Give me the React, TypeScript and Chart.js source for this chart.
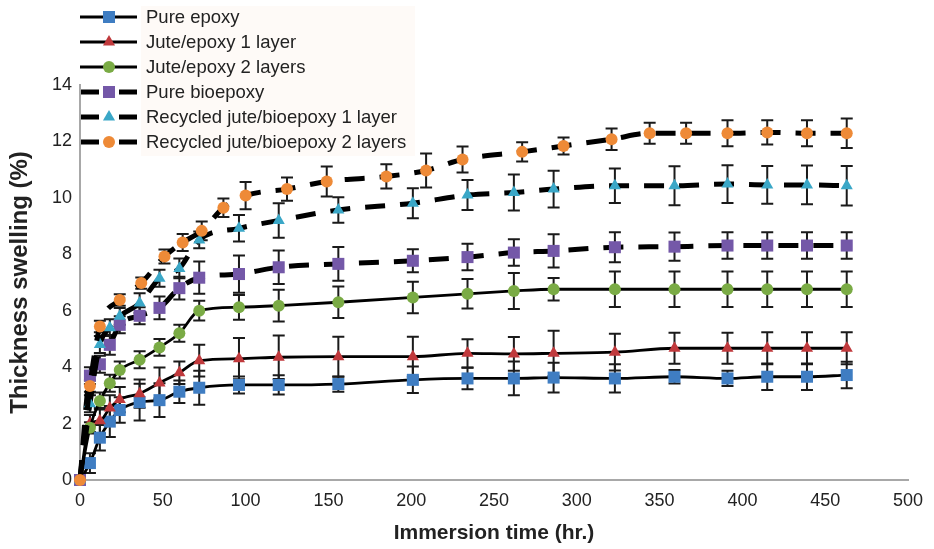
import { useEffect, useRef } from "react";
import { Chart, registerables } from "chart.js";

Chart.register(...registerables);

// Immersion times (hr.) shared by the first five materials
const hours = [0, 6, 12, 18, 24, 36, 48, 60, 72, 96, 120, 156, 201, 234, 262, 286, 323, 359, 391, 415, 439, 463];
// Immersion times (hr.) for the recycled jute/bioepoxy 2-layer laminate
const hoursRecycled2 = [0, 6, 12, 24, 37, 51, 62, 73.5, 86.6, 100, 125, 149, 185, 209, 231, 267, 292, 321, 344, 366, 391, 415, 439, 463];

const seriesNames = [
  "Pure epoxy",
  "Jute/epoxy 1 layer",
  "Jute/epoxy 2 layers",
  "Pure bioepoxy",
  "Recycled jute/bioepoxy 1 layer",
  "Recycled jute/bioepoxy 2 layers",
];

// Thickness swelling (%) and standard deviations
const pureEpoxy = [0, 0.6, 1.5, 2.07, 2.48, 2.76, 2.83, 3.13, 3.27, 3.37, 3.37, 3.4, 3.55, 3.6, 3.6, 3.63, 3.6, 3.66, 3.6, 3.66, 3.66, 3.72];
const pureEpoxyErr = [0, 0.35, 0.45, 0.55, 0.45, 0.65, 0.6, 0.4, 0.6, 0.3, 0.34, 0.27, 0.47, 0.38, 0.6, 0.53, 0.5, 0.24, 0.27, 0.47, 0.47, 0.47];

const jute1 = [0, 2.0, 2.1, 2.55, 2.85, 3.06, 3.44, 3.8, 4.23, 4.3, 4.35, 4.37, 4.37, 4.49, 4.47, 4.49, 4.53, 4.67, 4.67, 4.67, 4.67, 4.67];
const jute1Err = [0, 0.3, 0.45, 0.45, 0.45, 0.5, 0.55, 0.4, 0.56, 0.73, 0.77, 0.71, 0.71, 0.5, 0.6, 0.8, 0.65, 0.55, 0.55, 0.57, 0.57, 0.57];

const jute2 = [0, 1.85, 2.8, 3.43, 3.9, 4.26, 4.7, 5.2, 6.0, 6.12, 6.18, 6.3, 6.47, 6.6, 6.7, 6.76, 6.76, 6.76, 6.76, 6.76, 6.76, 6.76];
const jute2Err = [0, 0.2, 0.3, 0.3, 0.3, 0.3, 0.3, 0.3, 0.35, 0.44, 0.56, 0.56, 0.56, 0.52, 0.64, 0.4, 0.63, 0.63, 0.63, 0.63, 0.63, 0.63];

const pureBio = [0, 3.7, 4.1, 4.79, 5.5, 5.82, 6.1, 6.8, 7.17, 7.3, 7.54, 7.66, 7.77, 7.9, 8.06, 8.12, 8.25, 8.27, 8.31, 8.31, 8.31, 8.31];
const pureBioErr = [0, 0.3, 0.3, 0.35, 0.3, 0.3, 0.4, 0.4, 0.57, 0.66, 0.59, 0.6, 0.41, 0.47, 0.47, 0.59, 0.53, 0.5, 0.47, 0.47, 0.47, 0.47];

const recycled1 = [0, 2.7, 4.8, 5.4, 5.8, 6.27, 7.15, 7.5, 8.51, 8.92, 9.2, 9.57, 9.81, 10.1, 10.19, 10.31, 10.43, 10.43, 10.49, 10.46, 10.46, 10.43];
const recycled1Err = [0, 0.3, 0.3, 0.3, 0.3, 0.35, 0.3, 0.35, 0.3, 0.47, 0.61, 0.45, 0.53, 0.53, 0.64, 0.65, 0.61, 0.69, 0.67, 0.67, 0.69, 0.7];

const recycled2 = [0, 3.33, 5.44, 6.38, 6.98, 7.92, 8.42, 8.83, 9.65, 10.08, 10.31, 10.58, 10.76, 10.97, 11.36, 11.63, 11.84, 12.08, 12.29, 12.29, 12.29, 12.32, 12.29, 12.29];
const recycled2Err = [0, 0.2, 0.2, 0.2, 0.2, 0.25, 0.3, 0.33, 0.33, 0.48, 0.41, 0.53, 0.43, 0.6, 0.46, 0.34, 0.3, 0.38, 0.37, 0.37, 0.46, 0.43, 0.46, 0.52];

const xTicks = [0, 50, 100, 150, 200, 250, 300, 350, 400, 450, 500];
const yTicks = [0, 2, 4, 6, 8, 10, 12, 14];

const FONT = '"Liberation Sans", Arial, Helvetica, sans-serif';
const TEXT = "#222222";

type Style = { color: string; shape: "rect" | "triangle" | "circle"; radius: number; dashed: boolean };
const styles: Style[] = [
  { color: "#3f7dc2", shape: "rect", radius: 8.5, dashed: false },
  { color: "#c0393c", shape: "triangle", radius: 7, dashed: false },
  { color: "#7aab45", shape: "circle", radius: 6, dashed: false },
  { color: "#7458a8", shape: "rect", radius: 8.5, dashed: true },
  { color: "#3aa7c7", shape: "triangle", radius: 7, dashed: true },
  { color: "#ee8a37", shape: "circle", radius: 6, dashed: true },
];

const seriesX = [hours, hours, hours, hours, hours, hoursRecycled2];
const seriesY = [pureEpoxy, jute1, jute2, pureBio, recycled1, recycled2];
const seriesErr = [pureEpoxyErr, jute1Err, jute2Err, pureBioErr, recycled1Err, recycled2Err];

function drawMarker(ctx: CanvasRenderingContext2D, s: Style, x: number, y: number) {
  ctx.save();
  ctx.fillStyle = s.color;
  ctx.beginPath();
  if (s.shape === "rect") {
    const h = s.radius * Math.SQRT1_2;
    ctx.rect(x - h, y - h, 2 * h, 2 * h);
  } else if (s.shape === "triangle") {
    const r = s.radius;
    ctx.moveTo(x, y - r);
    ctx.lineTo(x + r * 0.866, y + r * 0.5);
    ctx.lineTo(x - r * 0.866, y + r * 0.5);
    ctx.closePath();
  } else {
    ctx.arc(x, y, s.radius, 0, Math.PI * 2);
  }
  ctx.fill();
  ctx.restore();
}

// Vertical error bars with caps, drawn under the markers
const errorBars = {
  id: "errorBars",
  beforeDatasetsDraw(chart: any) {
    const { ctx, scales } = chart;
    ctx.save();
    ctx.strokeStyle = "#1a1a1a";
    ctx.lineWidth = 2;
    chart.data.datasets.forEach((ds: any, i: number) => {
      const errs = seriesErr[i];
      ds.data.forEach((p: any, j: number) => {
        const e = errs[j];
        if (!e) return;
        const x = scales.x.getPixelForValue(p.x);
        const yTop = scales.y.getPixelForValue(p.y + e);
        const yBot = scales.y.getPixelForValue(p.y - e);
        ctx.beginPath();
        ctx.moveTo(x, yTop);
        ctx.lineTo(x, yBot);
        ctx.moveTo(x - 6, yTop);
        ctx.lineTo(x + 6, yTop);
        ctx.moveTo(x - 6, yBot);
        ctx.lineTo(x + 6, yBot);
        ctx.stroke();
      });
    });
    ctx.restore();
  },
};

// Legend in the upper-left corner
const cornerLegend = {
  id: "cornerLegend",
  afterDraw(chart: any) {
    const { ctx } = chart;
    ctx.save();
    ctx.fillStyle = "#fefaf7";
    ctx.fillRect(141, 6, 274, 150);
    seriesNames.forEach((name, i) => {
      const s = styles[i];
      const y = 17 + i * 25;
      ctx.strokeStyle = "#000";
      ctx.lineCap = "butt";
      ctx.beginPath();
      if (s.dashed) {
        ctx.lineWidth = 5;
        ctx.moveTo(81, y);
        ctx.lineTo(99, y);
        ctx.moveTo(119, y);
        ctx.lineTo(137, y);
      } else {
        ctx.lineWidth = 3;
        ctx.moveTo(80, y);
        ctx.lineTo(137, y);
      }
      ctx.stroke();
      drawMarker(ctx, s, 109, y);
      ctx.fillStyle = TEXT;
      ctx.font = `18.5px ${FONT}`;
      ctx.textAlign = "left";
      ctx.textBaseline = "middle";
      ctx.fillText(name, 146, y + 1);
    });
    ctx.restore();
  },
};

export default function App() {
  const canvasRef = useRef<HTMLCanvasElement | null>(null);

  useEffect(() => {
    const canvas = canvasRef.current;
    if (!canvas) return;

    const datasets = seriesNames.map((name, i) => {
      const s = styles[i];
      return {
        label: name,
        data: seriesX[i].map((x, j) => ({ x, y: seriesY[i][j] })),
        // later series are painted over earlier ones
        order: seriesNames.length - i,
        borderColor: "#000000",
        borderWidth: s.dashed ? 5 : 2.8,
        borderDash: s.dashed ? [20, 15] : [],
        cubicInterpolationMode: "monotone" as const,
        pointStyle: s.shape,
        pointRadius: s.radius,
        pointBackgroundColor: s.color,
        pointBorderColor: s.color,
        pointBorderWidth: 0,
        fill: false,
        clip: false as const,
      };
    });

    const chart = new Chart(canvas, {
      type: "line",
      data: { datasets },
      options: {
        animation: false,
        responsive: false,
        devicePixelRatio: 1,
        layout: { padding: { top: 85, right: 26, left: 0, bottom: 0 } },
        plugins: {
          legend: { display: false },
          tooltip: { enabled: false },
        },
        scales: {
          x: {
            type: "linear",
            min: 0,
            max: 500,
            afterBuildTicks: (scale: any) => {
              scale.ticks = xTicks.map((v) => ({ value: v }));
            },
            afterFit: (scale: any) => {
              scale.height = 69;
            },
            ticks: { font: { size: 18, family: FONT }, color: TEXT, padding: 10, maxRotation: 0 },
            grid: { display: false, drawTicks: false },
            border: { display: true, color: "#a8a8a8", width: 2 },
            title: {
              display: true,
              text: "Immersion time (hr.)",
              color: TEXT,
              font: { size: 21, weight: "bold", family: FONT },
              padding: { top: 0, bottom: 3 },
            },
          },
          y: {
            type: "linear",
            min: 0,
            max: 14,
            afterBuildTicks: (scale: any) => {
              scale.ticks = yTicks.map((v) => ({ value: v }));
            },
            afterFit: (scale: any) => {
              scale.width = 80;
            },
            ticks: { font: { size: 18, family: FONT }, color: TEXT, padding: 8 },
            grid: { display: false, drawTicks: false },
            border: { display: true, color: "#a8a8a8", width: 2 },
            title: {
              display: true,
              text: "Thickness swelling (%)",
              color: TEXT,
              font: { size: 24, weight: "bold", family: FONT },
              padding: { top: 6, bottom: 0 },
            },
          },
        },
      },
      plugins: [errorBars, cornerLegend],
    });

    return () => chart.destroy();
  }, []);

  return (
    <div style={{ position: "fixed", left: 0, top: 0, width: 934, height: 549, background: "#fff" }}>
      <canvas ref={canvasRef} width={934} height={549} style={{ display: "block" }} />
    </div>
  );
}
